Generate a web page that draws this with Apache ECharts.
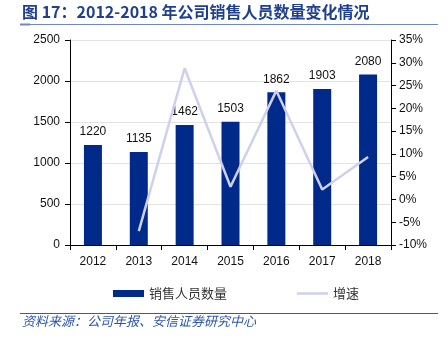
<!DOCTYPE html>
<html><head><meta charset="utf-8">
<script src="https://cdn.jsdelivr.net/npm/echarts@6/dist/echarts.min.js"></script>
<style>html,body{margin:0;padding:0;background:#fff}#c{width:448px;height:346px}</style>
</head><body><div id="c"></div>
<script>
const years = ['2012','2013','2014','2015','2016','2017','2018'];
const staff = [1220,1135,1462,1503,1862,1903,2080];
const growth = [null,-6.97,28.81,2.80,23.88,2.20,9.30];
const leftTicks = [0,500,1000,1500,2000,2500];
const rightTicks = [-10,-5,0,5,10,15,20,25,30,35];

const chart = echarts.init(document.getElementById('c'));
const fontF = 'Liberation Sans, Arial, sans-serif';
chart.setOption({
  animation:false,
  backgroundColor:'#fff',
  grid:{left:70,right:57,top:40,bottom:101},
  legend:{
    top:282, left:108, itemGap:70, symbolKeepAspect:true,
    textStyle:{fontFamily:'Noto Sans CJK SC',fontSize:13,color:'#333'},
    data:[
      {name:'销售人员数量',icon:'rect',itemStyle:{color:'#002a8a'}},
      {name:'增速',icon:'path://M0,0H31V2.5H0Z',itemStyle:{color:'#cfd0ee',borderWidth:0},lineStyle:{width:0,opacity:0}}
    ],
    itemWidth:31,itemHeight:7
  },
  graphic:[
    {type:'text',left:22,top:4,style:{text:'图 17：2012-2018 年公司销售人员数量变化情况',font:'bold 16px "Noto Sans CJK SC"',fill:'#1f3f8f'}},
    {type:'rect',shape:{x:20,y:24,width:418,height:1},style:{fill:'#6f88c0'}},
    {type:'rect',shape:{x:20,y:23.5,width:10,height:2},style:{fill:'#6f88c0'}},
    {type:'rect',shape:{x:20,y:313,width:418,height:1},style:{fill:'#3a5aa8'}},
    {type:'text',left:22,top:315,style:{text:'资料来源：公司年报、安信证券研究中心',font:'italic 13px "Noto Sans CJK SC"',fill:'#2f56a8'}}
  ],
  xAxis:{
    type:'category',data:years,
    axisLine:{lineStyle:{color:'#000',width:1}},
    axisTick:{show:true,alignWithLabel:false,length:5,lineStyle:{color:'#000'}},
    axisLabel:{color:'#111',fontSize:12,fontFamily:fontF,margin:11}
  },
  yAxis:[
    {type:'value',min:0,max:2500,interval:500,
     axisLine:{show:true,lineStyle:{color:'#000'}},
     axisTick:{show:true,length:5,lineStyle:{color:'#000'}},
     splitLine:{lineStyle:{color:'#e3e3e3'}},
     axisLabel:{color:'#111',fontSize:12,fontFamily:fontF,margin:10,formatter:v=>String(v)}},
    {type:'value',min:-10,max:35,interval:5,position:'right',
     axisLine:{show:true,lineStyle:{color:'#000'}},
     axisTick:{show:true,length:5,lineStyle:{color:'#000'}},
     splitLine:{show:false},
     axisLabel:{color:'#111',fontSize:12,fontFamily:fontF,margin:8,formatter:'{value}%'}}
  ],
  series:[
    {name:'销售人员数量',type:'bar',data:staff,barWidth:18,
     itemStyle:{color:'#002a8a'},
     label:{show:true,position:'top',distance:7,color:'#111',fontSize:12,fontFamily:fontF}},
    {name:'增速',type:'line',yAxisIndex:1,data:growth,symbol:'none',
     lineStyle:{color:'#cfd0ee',width:2.5},itemStyle:{color:'#cfd0ee'}}
  ]
});
</script></body></html>
